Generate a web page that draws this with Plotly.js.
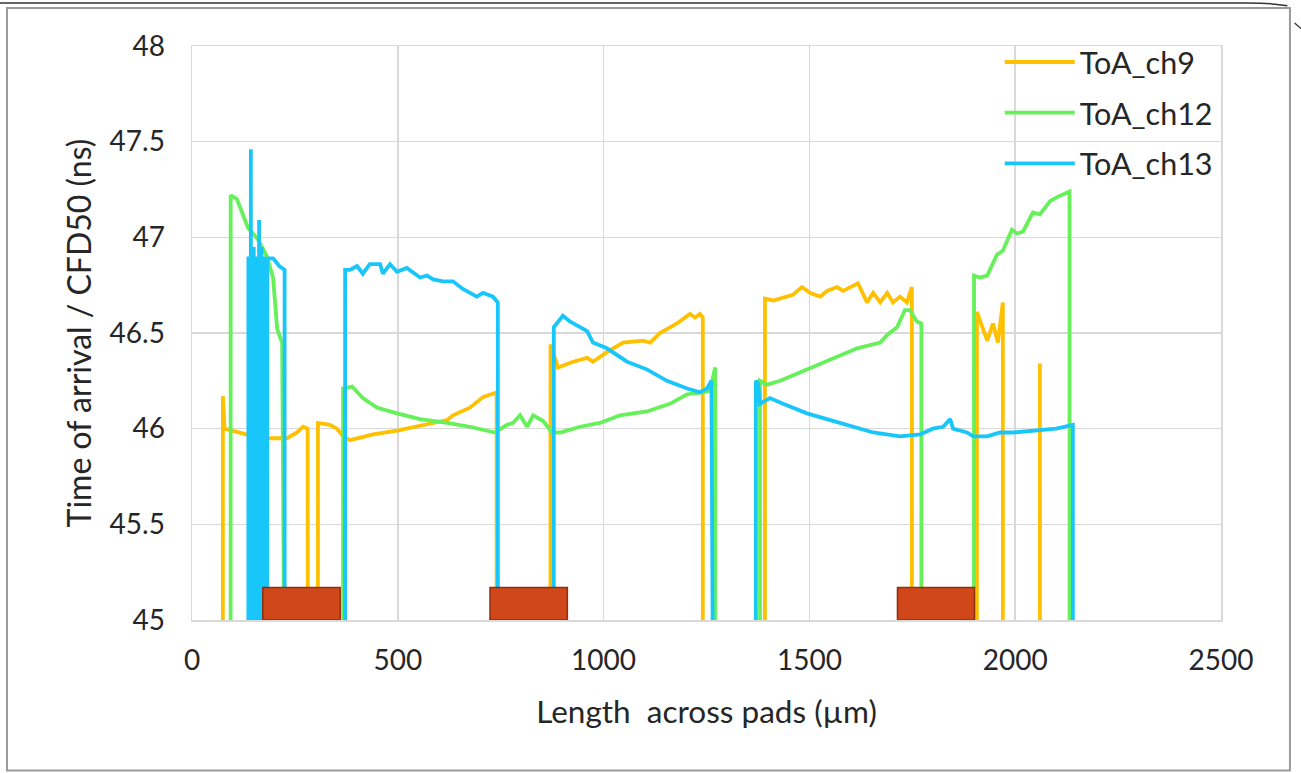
<!DOCTYPE html>
<html>
<head>
<meta charset="utf-8">
<script src="https://cdn.plot.ly/plotly-3.0.1.min.js"></script>
<style>
html,body{margin:0;padding:0;background:#fff;}
#chart{width:1301px;height:773px;}
</style>
</head>
<body>
<div id="chart"></div>
<script>
// ---- data ----
var seriesNames = ["ToA_ch9", "ToA_ch12", "ToA_ch13"];
var seriesColors = ["#FFC000", "#66F05A", "#19C6FA"];

var ch9_x = [73, 75, 79, 117, 150, 190, 231, 255, 270, 281, 283, 304, 306, 335, 352, 367, 384, 440, 498, 560, 620, 634, 675, 707, 736, 740, 742,
  869, 871, 889, 926, 960, 974, 1008, 1047, 1096, 1113, 1137, 1178, 1210, 1222, 1234, 1241, 1243,
  1390, 1392, 1412, 1446, 1460, 1482, 1501, 1526, 1543, 1567, 1582, 1618, 1640, 1655, 1672, 1689, 1703, 1720, 1737, 1749, 1751,
  1905, 1907, 1932, 1946, 1958, 1970, 1972, 2058, 2060, 2062];
var ch9_y = [0, 46.17, 46.0, 45.98, 45.96, 45.95, 45.95, 45.98, 46.01, 46.0, 0, 0, 46.03, 46.02, 46.0, 45.96, 45.94, 45.97, 45.99, 46.02, 46.045, 46.07, 46.11, 46.165, 46.19, 46.19, 0,
  0, 46.44, 46.32, 46.35, 46.37, 46.35, 46.40, 46.45, 46.46, 46.45, 46.50, 46.55, 46.60, 46.58, 46.60, 46.58, 0,
  0, 46.68, 46.67, 46.69, 46.70, 46.74, 46.71, 46.69, 46.72, 46.74, 46.72, 46.76, 46.66, 46.71, 46.66, 46.71, 46.66, 46.69, 46.66, 46.74, 0,
  0, 46.61, 46.46, 46.55, 46.45, 46.66, 0, 0, 46.34, 0];

var ch12_x = [92, 94, 109, 136, 160, 182, 197, 207, 219, 221,
  365, 367, 389, 415, 449, 498, 554, 620, 675, 736, 765, 780, 797, 814, 829, 853, 875, 894, 943, 991, 1040, 1105, 1161, 1203, 1241, 1259, 1271, 1273,
  1378, 1380, 1397, 1429, 1494, 1557, 1616, 1672, 1689, 1713, 1732, 1744, 1761, 1772, 1774,
  1898, 1900, 1914, 1932, 1956, 1970, 1992, 2004, 2019, 2043, 2060, 2085, 2102, 2126, 2132, 2134];
var ch12_y = [0, 47.22, 47.2, 47.05, 46.99, 46.90, 46.79, 46.52, 46.45, 0,
  0, 46.21, 46.22, 46.16, 46.11, 46.08, 46.05, 46.03, 46.01, 45.98, 46.02, 46.03, 46.07, 46.01, 46.07, 46.04, 45.98, 45.98, 46.01, 46.03, 46.07, 46.09, 46.13, 46.18, 46.19, 46.20, 46.32, 0,
  0, 46.25, 46.23, 46.25, 46.31, 46.37, 46.42, 46.45, 46.49, 46.53, 46.62, 46.62, 46.56, 46.55, 0,
  0, 46.80, 46.79, 46.80, 46.91, 46.93, 47.04, 47.02, 47.03, 47.13, 47.12, 47.19, 47.21, 47.23, 47.24, 0];

var ch13_x = [134, 137, 140, 143, 146, 150, 153, 156, 159, 163, 166, 169, 172, 176, 179, 183, 187, 197, 212, 225, 227,
  370, 372, 384, 401, 415, 432, 457, 464, 481, 498, 522, 554, 571, 586, 610, 634, 658, 692, 707, 731, 743, 746,
  877, 879, 901, 918, 943, 960, 974, 1008, 1057, 1105, 1154, 1203, 1234, 1251, 1262, 1264,
  1368, 1370, 1375, 1380, 1404, 1436, 1494, 1574, 1655, 1720, 1769, 1800, 1825, 1842, 1849, 1883, 1898, 1932, 1963, 1995, 2060, 2100, 2140, 2143];
var ch13_y = [0, 46.9, 0, 47.46, 0, 46.95, 0, 46.9, 0, 47.09, 0, 46.95, 0, 46.9, 0, 46.88, 46.89, 46.89, 46.85, 46.83, 0,
  0, 46.83, 46.83, 46.85, 46.81, 46.86, 46.86, 46.81, 46.86, 46.82, 46.84, 46.79, 46.80, 46.78, 46.77, 46.77, 46.73, 46.69, 46.71, 46.69, 46.66, 0,
  0, 46.53, 46.59, 46.56, 46.53, 46.51, 46.45, 46.42, 46.35, 46.31, 46.25, 46.21, 46.19, 46.21, 46.25, 0,
  0, 46.25, 46.24, 46.13, 46.16, 46.13, 46.08, 46.03, 45.98, 45.96, 45.97, 46.0, 46.01, 46.05, 46.0, 45.98, 45.96, 45.96, 45.98, 45.98, 45.99, 46.0, 46.02, 0];

// pads (orange-red rectangles)
var padStart = [172, 724, 1714];
var padEnd = [360, 912, 1901];
var padTop = 45.17;

var xTicks = [0, 500, 1000, 1500, 2000, 2500];
var yTicks = [45, 45.5, 46, 46.5, 47, 47.5, 48];
var yTickText = ["45", "45.5", "46", "46.5", "47", "47.5", "48"];

// ---- traces ----
var xs = [ch9_x, ch12_x, ch13_x];
var ys = [ch9_y, ch12_y, ch13_y];
var traces = [];
for (var i = 0; i < 3; i++) {
  traces.push({
    type: "scatter", mode: "lines", x: xs[i], y: ys[i], name: seriesNames[i],
    legendgroup: "g" + i,
    line: {color: seriesColors[i], width: 3.8}, hoverinfo: "x+y+name"
  });
}

var shapes = [];
for (var k = 0; k < padStart.length; k++) {
  shapes.push({type: "rect", xref: "x", yref: "y", x0: padStart[k], x1: padEnd[k], y0: 45, y1: padTop,
    fillcolor: "#D0481A", line: {color: "#8E2E10", width: 1.5}, layer: "above"});
}
// outer frame of the figure
shapes.push({type: "rect", xref: "paper", yref: "paper", x0: -0.1798, x1: 1.067, y0: -0.262, y1: 1.0662,
  line: {color: "#9a9a9a", width: 2}, fillcolor: "rgba(0,0,0,0)", layer: "below"});
shapes.push({type: "path", xref: "paper", yref: "paper",
  path: "M -0.19,1.075 L 1.0255,1.075 Q 1.05,1.075 1.0645,1.07",
  line: {color: "#333", width: 1.5}});
shapes.push({type: "line", xref: "paper", yref: "paper", x0: 1.0715, y0: 1.04, x1: 1.078, y1: 1.03,
  line: {color: "#333", width: 1.2}});

var fontFam = "Lato, 'Open Sans', sans-serif";
var layout = {
  width: 1301, height: 773,
  margin: {l: 192, r: 80, t: 46, b: 153},
  paper_bgcolor: "#fff", plot_bgcolor: "#fff",
  font: {family: fontFam, size: 28, color: "#262626"},
  showlegend: true,
  legend: {x: 0.785, xanchor: "left", y: 1.018, yanchor: "top", bgcolor: "rgba(0,0,0,0)",
    font: {family: fontFam, size: 30.5, color: "#262626"}, itemwidth: 70, tracegroupgap: 8},
  xaxis: {range: [0, 2500], tickvals: xTicks, ticktext: xTicks.map(String),
    showgrid: true, gridcolor: "#d9d9d9", gridwidth: 1.5, zeroline: false,
    showline: true, linecolor: "#d9d9d9", linewidth: 1.5, mirror: true,
    ticks: "", ticklabelstandoff: 15,
    title: {text: "Length\u00a0 across pads (µm)", font: {family: fontFam, size: 31.5, color: "#262626"}, standoff: 26}},
  yaxis: {range: [45, 48], tickvals: yTicks, ticktext: yTickText,
    showgrid: true, gridcolor: "#d9d9d9", gridwidth: 1.5, zeroline: false,
    showline: true, linecolor: "#d9d9d9", linewidth: 1.5, mirror: true,
    ticks: "", ticklabelstandoff: 20,
    title: {text: "Time of arrival / CFD50 (ns)", font: {family: fontFam, size: 32, color: "#262626"}, standoff: 8}},
  shapes: shapes
};

Plotly.newPlot("chart", traces, layout, {displayModeBar: false, staticPlot: true});
</script>
</body>
</html>
